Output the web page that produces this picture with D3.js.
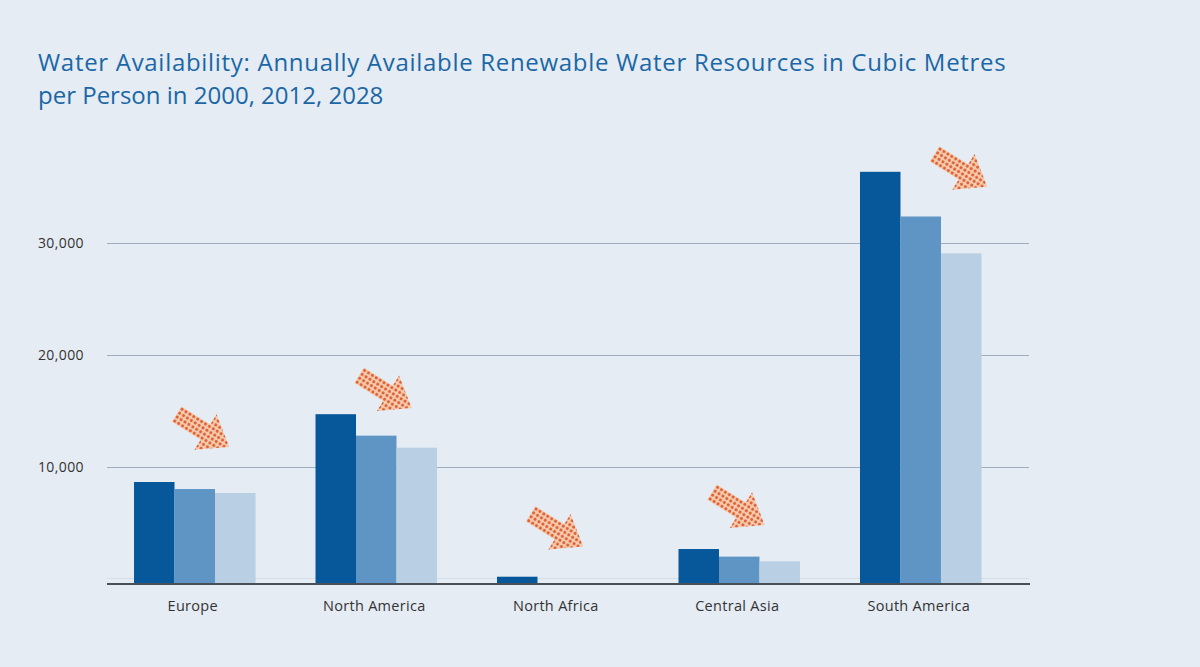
<!DOCTYPE html>
<html>
<head>
<meta charset="utf-8">
<script src="https://cdn.jsdelivr.net/npm/d3@7"></script>
<style>
  html, body { margin: 0; padding: 0; background: #e5ecf4; }
  svg { display: block; }
</style>
</head>
<body>
<svg id="chart" width="1200" height="667"></svg>
<script>
// ---- data ----
const categories = ["Europe", "North America", "North Africa", "Central Asia", "South America"];
const years = ["2000", "2012", "2028"];
const values2000 = [8630, 14700, 150, 2630, 36400];
const values2012 = [8000, 12780, null, 1950, 32400];
const values2028 = [7650, 11700, null, 1530, 29100];
const tickValues = [10000, 20000, 30000];
const titleLines = [
  "Water Availability: Annually Available Renewable Water Resources in Cubic Metres",
  "per Person in 2000, 2012, 2028"
];

// ---- layout / style ----
const W = 1200, H = 667;
const colors = ["#07589b", "#5e95c5", "#b8cfe4"];
const gridLeft = 107, gridRight = 1029;
const baselineY = 584;
// arrow offsets relative to group centre / tallest bar top (decoration layout)
const arrowOffsets = [[9, -51], [10, -22], [0, -46], [0, -40], [41, -1]];

const svg = d3.select("#chart");
svg.append("rect").attr("width", W).attr("height", H).attr("fill", "#e5ecf4");

const y = d3.scaleLinear().domain([0, 30000]).range([578.4, 243.3]);
const x0 = d3.scaleBand().domain(categories).range([106.8, 1008.7])
  .paddingInner(0.3306).paddingOuter(0.15);
const x1 = d3.scaleBand().domain(years).range([0, x0.bandwidth()]).padding(0);

// title
const title = svg.append("text")
  .attr("font-family", "'Open Sans', sans-serif")
  .attr("font-size", 24)
  .attr("fill", "#1b67a6");
titleLines.forEach((t, i) => {
  title.append("tspan").attr("x", 38).attr("y", 71 + i * 33)
    .attr("letter-spacing", i === 0 ? 0.7 : 0).text(t);
});

// gridlines
svg.append("g").selectAll("line").data(tickValues).join("line")
  .attr("x1", gridLeft).attr("x2", gridRight)
  .attr("y1", d => Math.round(y(d)) + 0.5).attr("y2", d => Math.round(y(d)) + 0.5)
  .attr("stroke", "#9eadbd").attr("stroke-width", 1.2);
// faint zero line
svg.append("line")
  .attr("x1", gridLeft).attr("x2", gridRight)
  .attr("y1", y(0)).attr("y2", y(0))
  .attr("stroke", "#d3dce6").attr("stroke-width", 1);

// y tick labels
const yAxis = d3.axisLeft(y).tickValues(tickValues).tickSize(0).tickFormat(d3.format(","));
const yg = svg.append("g").attr("transform", "translate(84,0)").call(yAxis);
yg.select(".domain").remove();
yg.selectAll("text")
  .attr("font-family", "'Open Sans', sans-serif")
  .attr("font-size", 14).attr("letter-spacing", 0.4).attr("fill", "#333").attr("x", 0);

// bars
const series = [values2000, values2012, values2028];
const groups = svg.append("g").selectAll("g").data(categories).join("g")
  .attr("transform", d => `translate(${x0(d)},0)`);
groups.selectAll("rect")
  .data((c, i) => years.map((yr, j) => ({ yr, v: series[j][i] })).filter(d => d.v != null))
  .join("rect")
  .attr("x", d => x1(d.yr))
  .attr("width", x1.bandwidth())
  .attr("y", d => y(d.v))
  .attr("height", d => baselineY - y(d.v))
  .attr("fill", (d) => colors[years.indexOf(d.yr)]);

// baseline
svg.append("line")
  .attr("x1", gridLeft).attr("x2", gridRight + 1)
  .attr("y1", baselineY).attr("y2", baselineY)
  .attr("stroke", "#4a4f55").attr("stroke-width", 2);

// x labels
const xAxis = d3.axisBottom(x0).tickSize(0);
const xg = svg.append("g").attr("transform", `translate(0,${baselineY})`).call(xAxis);
xg.select(".domain").remove();
xg.selectAll("text")
  .attr("font-family", "'Open Sans', sans-serif")
  .attr("font-size", 14.5).attr("letter-spacing", 0.3).attr("fill", "#333")
  .attr("y", 17).attr("dx", -2);

// dotted arrow pattern
const defs = svg.append("defs");
const pat = defs.append("pattern").attr("id", "dots")
  .attr("patternUnits", "userSpaceOnUse").attr("width", 4.6).attr("height", 4.6);
pat.append("rect").attr("width", 4.6).attr("height", 4.6).attr("fill", "#f6c9ae");
pat.append("circle").attr("cx", 2.3).attr("cy", 2.3).attr("r", 1.55).attr("fill", "#dd5a26");

const arrowPath = "M-32,-9 L2,-9 L2,-21 L30,0 L2,21 L2,9 L-32,9 Z";
categories.forEach((c, i) => {
  const maxV = d3.max(series, s => s[i] == null ? 0 : s[i]);
  const cx = x0(c) + x0.bandwidth() / 2 + arrowOffsets[i][0];
  const cy = y(maxV) + arrowOffsets[i][1];
  svg.append("path")
    .attr("d", arrowPath)
    .attr("transform", `translate(${cx},${cy}) rotate(32)`)
    .attr("fill", "url(#dots)")
    .attr("opacity", 0.95);
});
</script>
</body>
</html>
